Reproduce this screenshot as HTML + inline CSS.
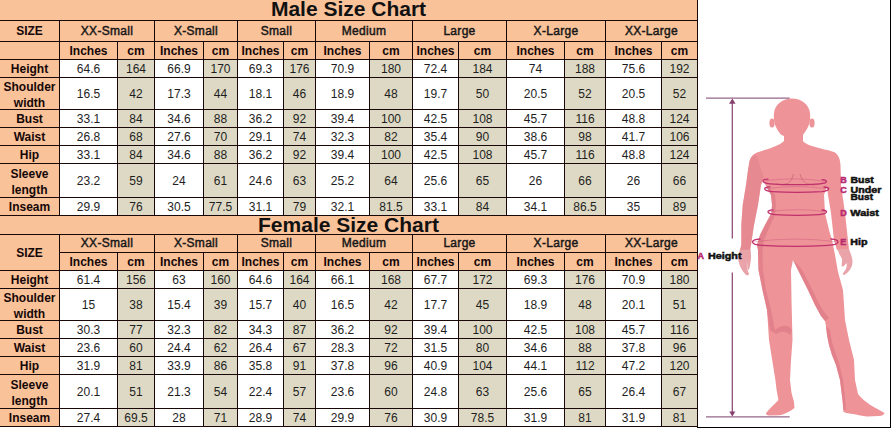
<!DOCTYPE html>
<html><head><meta charset="utf-8"><style>
html,body{margin:0;padding:0;background:#fff}
body{width:892px;height:428px;position:relative;overflow:hidden;font-family:"Liberation Sans",Arial,sans-serif;color:#111}
.r{position:absolute}
.t{position:absolute;text-align:center;font-size:12px;white-space:nowrap}
.t2{position:absolute;display:flex;align-items:center;justify-content:center;text-align:center;font-size:12px;line-height:16px;white-space:nowrap}
.b{font-weight:bold;color:#160707}
.n{color:#1e1e1e}
.h{-webkit-text-stroke:0.45px #111;letter-spacing:0.3px}
.title{position:absolute;text-align:center;font-weight:bold;font-size:21px;white-space:nowrap}
svg{position:absolute;left:0;top:0}
</style></head><body>
<div class="r" style="left:0px;top:0px;width:697px;height:20px;background:#F9C299"></div>
<div class="r" style="left:0px;top:216px;width:697px;height:18px;background:#F9C299"></div>
<div class="r" style="left:697px;top:0px;width:1px;height:21px;background:#1a0808"></div>
<div class="r" style="left:697px;top:216px;width:1px;height:19px;background:#1a0808"></div>
<div class="title" style="left:0;top:-1px;width:697px;height:20px;line-height:20px">Male Size Chart</div>
<div class="title" style="left:0;top:215px;width:697px;height:19px;line-height:19px">Female Size Chart</div>
<div class="r" style="left:0px;top:21px;width:697px;height:38px;background:#F9C299"></div>
<div class="r" style="left:0px;top:60px;width:59px;height:17px;background:#F9C299"></div>
<div class="r" style="left:60px;top:60px;width:57px;height:17px;background:#fff"></div>
<div class="r" style="left:118px;top:60px;width:36px;height:17px;background:#DDD9C4"></div>
<div class="r" style="left:155px;top:60px;width:48px;height:17px;background:#fff"></div>
<div class="r" style="left:204px;top:60px;width:33px;height:17px;background:#DDD9C4"></div>
<div class="r" style="left:238px;top:60px;width:45px;height:17px;background:#fff"></div>
<div class="r" style="left:284px;top:60px;width:31px;height:17px;background:#DDD9C4"></div>
<div class="r" style="left:316px;top:60px;width:53px;height:17px;background:#fff"></div>
<div class="r" style="left:370px;top:60px;width:42px;height:17px;background:#DDD9C4"></div>
<div class="r" style="left:413px;top:60px;width:45px;height:17px;background:#fff"></div>
<div class="r" style="left:459px;top:60px;width:47px;height:17px;background:#DDD9C4"></div>
<div class="r" style="left:507px;top:60px;width:57px;height:17px;background:#fff"></div>
<div class="r" style="left:565px;top:60px;width:40px;height:17px;background:#DDD9C4"></div>
<div class="r" style="left:606px;top:60px;width:55px;height:17px;background:#fff"></div>
<div class="r" style="left:662px;top:60px;width:35px;height:17px;background:#DDD9C4"></div>
<div class="r" style="left:0px;top:78px;width:59px;height:31px;background:#F9C299"></div>
<div class="r" style="left:60px;top:78px;width:57px;height:31px;background:#fff"></div>
<div class="r" style="left:118px;top:78px;width:36px;height:31px;background:#DDD9C4"></div>
<div class="r" style="left:155px;top:78px;width:48px;height:31px;background:#fff"></div>
<div class="r" style="left:204px;top:78px;width:33px;height:31px;background:#DDD9C4"></div>
<div class="r" style="left:238px;top:78px;width:45px;height:31px;background:#fff"></div>
<div class="r" style="left:284px;top:78px;width:31px;height:31px;background:#DDD9C4"></div>
<div class="r" style="left:316px;top:78px;width:53px;height:31px;background:#fff"></div>
<div class="r" style="left:370px;top:78px;width:42px;height:31px;background:#DDD9C4"></div>
<div class="r" style="left:413px;top:78px;width:45px;height:31px;background:#fff"></div>
<div class="r" style="left:459px;top:78px;width:47px;height:31px;background:#DDD9C4"></div>
<div class="r" style="left:507px;top:78px;width:57px;height:31px;background:#fff"></div>
<div class="r" style="left:565px;top:78px;width:40px;height:31px;background:#DDD9C4"></div>
<div class="r" style="left:606px;top:78px;width:55px;height:31px;background:#fff"></div>
<div class="r" style="left:662px;top:78px;width:35px;height:31px;background:#DDD9C4"></div>
<div class="r" style="left:0px;top:110px;width:59px;height:17px;background:#F9C299"></div>
<div class="r" style="left:60px;top:110px;width:57px;height:17px;background:#fff"></div>
<div class="r" style="left:118px;top:110px;width:36px;height:17px;background:#DDD9C4"></div>
<div class="r" style="left:155px;top:110px;width:48px;height:17px;background:#fff"></div>
<div class="r" style="left:204px;top:110px;width:33px;height:17px;background:#DDD9C4"></div>
<div class="r" style="left:238px;top:110px;width:45px;height:17px;background:#fff"></div>
<div class="r" style="left:284px;top:110px;width:31px;height:17px;background:#DDD9C4"></div>
<div class="r" style="left:316px;top:110px;width:53px;height:17px;background:#fff"></div>
<div class="r" style="left:370px;top:110px;width:42px;height:17px;background:#DDD9C4"></div>
<div class="r" style="left:413px;top:110px;width:45px;height:17px;background:#fff"></div>
<div class="r" style="left:459px;top:110px;width:47px;height:17px;background:#DDD9C4"></div>
<div class="r" style="left:507px;top:110px;width:57px;height:17px;background:#fff"></div>
<div class="r" style="left:565px;top:110px;width:40px;height:17px;background:#DDD9C4"></div>
<div class="r" style="left:606px;top:110px;width:55px;height:17px;background:#fff"></div>
<div class="r" style="left:662px;top:110px;width:35px;height:17px;background:#DDD9C4"></div>
<div class="r" style="left:0px;top:128px;width:59px;height:17px;background:#F9C299"></div>
<div class="r" style="left:60px;top:128px;width:57px;height:17px;background:#fff"></div>
<div class="r" style="left:118px;top:128px;width:36px;height:17px;background:#DDD9C4"></div>
<div class="r" style="left:155px;top:128px;width:48px;height:17px;background:#fff"></div>
<div class="r" style="left:204px;top:128px;width:33px;height:17px;background:#DDD9C4"></div>
<div class="r" style="left:238px;top:128px;width:45px;height:17px;background:#fff"></div>
<div class="r" style="left:284px;top:128px;width:31px;height:17px;background:#DDD9C4"></div>
<div class="r" style="left:316px;top:128px;width:53px;height:17px;background:#fff"></div>
<div class="r" style="left:370px;top:128px;width:42px;height:17px;background:#DDD9C4"></div>
<div class="r" style="left:413px;top:128px;width:45px;height:17px;background:#fff"></div>
<div class="r" style="left:459px;top:128px;width:47px;height:17px;background:#DDD9C4"></div>
<div class="r" style="left:507px;top:128px;width:57px;height:17px;background:#fff"></div>
<div class="r" style="left:565px;top:128px;width:40px;height:17px;background:#DDD9C4"></div>
<div class="r" style="left:606px;top:128px;width:55px;height:17px;background:#fff"></div>
<div class="r" style="left:662px;top:128px;width:35px;height:17px;background:#DDD9C4"></div>
<div class="r" style="left:0px;top:146px;width:59px;height:17px;background:#F9C299"></div>
<div class="r" style="left:60px;top:146px;width:57px;height:17px;background:#fff"></div>
<div class="r" style="left:118px;top:146px;width:36px;height:17px;background:#DDD9C4"></div>
<div class="r" style="left:155px;top:146px;width:48px;height:17px;background:#fff"></div>
<div class="r" style="left:204px;top:146px;width:33px;height:17px;background:#DDD9C4"></div>
<div class="r" style="left:238px;top:146px;width:45px;height:17px;background:#fff"></div>
<div class="r" style="left:284px;top:146px;width:31px;height:17px;background:#DDD9C4"></div>
<div class="r" style="left:316px;top:146px;width:53px;height:17px;background:#fff"></div>
<div class="r" style="left:370px;top:146px;width:42px;height:17px;background:#DDD9C4"></div>
<div class="r" style="left:413px;top:146px;width:45px;height:17px;background:#fff"></div>
<div class="r" style="left:459px;top:146px;width:47px;height:17px;background:#DDD9C4"></div>
<div class="r" style="left:507px;top:146px;width:57px;height:17px;background:#fff"></div>
<div class="r" style="left:565px;top:146px;width:40px;height:17px;background:#DDD9C4"></div>
<div class="r" style="left:606px;top:146px;width:55px;height:17px;background:#fff"></div>
<div class="r" style="left:662px;top:146px;width:35px;height:17px;background:#DDD9C4"></div>
<div class="r" style="left:0px;top:164px;width:59px;height:33px;background:#F9C299"></div>
<div class="r" style="left:60px;top:164px;width:57px;height:33px;background:#fff"></div>
<div class="r" style="left:118px;top:164px;width:36px;height:33px;background:#DDD9C4"></div>
<div class="r" style="left:155px;top:164px;width:48px;height:33px;background:#fff"></div>
<div class="r" style="left:204px;top:164px;width:33px;height:33px;background:#DDD9C4"></div>
<div class="r" style="left:238px;top:164px;width:45px;height:33px;background:#fff"></div>
<div class="r" style="left:284px;top:164px;width:31px;height:33px;background:#DDD9C4"></div>
<div class="r" style="left:316px;top:164px;width:53px;height:33px;background:#fff"></div>
<div class="r" style="left:370px;top:164px;width:42px;height:33px;background:#DDD9C4"></div>
<div class="r" style="left:413px;top:164px;width:45px;height:33px;background:#fff"></div>
<div class="r" style="left:459px;top:164px;width:47px;height:33px;background:#DDD9C4"></div>
<div class="r" style="left:507px;top:164px;width:57px;height:33px;background:#fff"></div>
<div class="r" style="left:565px;top:164px;width:40px;height:33px;background:#DDD9C4"></div>
<div class="r" style="left:606px;top:164px;width:55px;height:33px;background:#fff"></div>
<div class="r" style="left:662px;top:164px;width:35px;height:33px;background:#DDD9C4"></div>
<div class="r" style="left:0px;top:198px;width:59px;height:17px;background:#F9C299"></div>
<div class="r" style="left:60px;top:198px;width:57px;height:17px;background:#fff"></div>
<div class="r" style="left:118px;top:198px;width:36px;height:17px;background:#DDD9C4"></div>
<div class="r" style="left:155px;top:198px;width:48px;height:17px;background:#fff"></div>
<div class="r" style="left:204px;top:198px;width:33px;height:17px;background:#DDD9C4"></div>
<div class="r" style="left:238px;top:198px;width:45px;height:17px;background:#fff"></div>
<div class="r" style="left:284px;top:198px;width:31px;height:17px;background:#DDD9C4"></div>
<div class="r" style="left:316px;top:198px;width:53px;height:17px;background:#fff"></div>
<div class="r" style="left:370px;top:198px;width:42px;height:17px;background:#DDD9C4"></div>
<div class="r" style="left:413px;top:198px;width:45px;height:17px;background:#fff"></div>
<div class="r" style="left:459px;top:198px;width:47px;height:17px;background:#DDD9C4"></div>
<div class="r" style="left:507px;top:198px;width:57px;height:17px;background:#fff"></div>
<div class="r" style="left:565px;top:198px;width:40px;height:17px;background:#DDD9C4"></div>
<div class="r" style="left:606px;top:198px;width:55px;height:17px;background:#fff"></div>
<div class="r" style="left:662px;top:198px;width:35px;height:17px;background:#DDD9C4"></div>
<div class="r" style="left:0px;top:20px;width:698px;height:1px;background:#1a0808"></div>
<div class="r" style="left:0px;top:41px;width:698px;height:1px;background:#1a0808"></div>
<div class="r" style="left:0px;top:59px;width:698px;height:1px;background:#1a0808"></div>
<div class="r" style="left:0px;top:77px;width:698px;height:1px;background:#1a0808"></div>
<div class="r" style="left:0px;top:109px;width:698px;height:1px;background:#1a0808"></div>
<div class="r" style="left:0px;top:127px;width:698px;height:1px;background:#1a0808"></div>
<div class="r" style="left:0px;top:145px;width:698px;height:1px;background:#1a0808"></div>
<div class="r" style="left:0px;top:163px;width:698px;height:1px;background:#1a0808"></div>
<div class="r" style="left:0px;top:197px;width:698px;height:1px;background:#1a0808"></div>
<div class="r" style="left:0px;top:215px;width:698px;height:1px;background:#1a0808"></div>
<div class="r" style="left:59px;top:20px;width:1px;height:196px;background:#1a0808"></div>
<div class="r" style="left:154px;top:20px;width:1px;height:196px;background:#1a0808"></div>
<div class="r" style="left:237px;top:20px;width:1px;height:196px;background:#1a0808"></div>
<div class="r" style="left:315px;top:20px;width:1px;height:196px;background:#1a0808"></div>
<div class="r" style="left:412px;top:20px;width:1px;height:196px;background:#1a0808"></div>
<div class="r" style="left:506px;top:20px;width:1px;height:196px;background:#1a0808"></div>
<div class="r" style="left:605px;top:20px;width:1px;height:196px;background:#1a0808"></div>
<div class="r" style="left:697px;top:20px;width:1px;height:196px;background:#1a0808"></div>
<div class="r" style="left:117px;top:41px;width:1px;height:175px;background:#1a0808"></div>
<div class="r" style="left:203px;top:41px;width:1px;height:175px;background:#1a0808"></div>
<div class="r" style="left:283px;top:41px;width:1px;height:175px;background:#1a0808"></div>
<div class="r" style="left:369px;top:41px;width:1px;height:175px;background:#1a0808"></div>
<div class="r" style="left:458px;top:41px;width:1px;height:175px;background:#1a0808"></div>
<div class="r" style="left:564px;top:41px;width:1px;height:175px;background:#1a0808"></div>
<div class="r" style="left:661px;top:41px;width:1px;height:175px;background:#1a0808"></div>
<div class="t b" style="left:0px;top:21px;width:59px;height:20px;line-height:20px">SIZE</div>
<div class="t n h" style="left:60px;top:21px;width:94px;height:20px;line-height:20px">XX-Small</div>
<div class="t b" style="left:60px;top:43px;width:57px;height:17px;line-height:17px">Inches</div>
<div class="t b" style="left:118px;top:43px;width:36px;height:17px;line-height:17px">cm</div>
<div class="t n h" style="left:155px;top:21px;width:82px;height:20px;line-height:20px">X-Small</div>
<div class="t b" style="left:155px;top:43px;width:48px;height:17px;line-height:17px">Inches</div>
<div class="t b" style="left:204px;top:43px;width:33px;height:17px;line-height:17px">cm</div>
<div class="t n h" style="left:238px;top:21px;width:77px;height:20px;line-height:20px">Small</div>
<div class="t b" style="left:238px;top:43px;width:45px;height:17px;line-height:17px">Inches</div>
<div class="t b" style="left:284px;top:43px;width:31px;height:17px;line-height:17px">cm</div>
<div class="t n h" style="left:316px;top:21px;width:96px;height:20px;line-height:20px">Medium</div>
<div class="t b" style="left:316px;top:43px;width:53px;height:17px;line-height:17px">Inches</div>
<div class="t b" style="left:370px;top:43px;width:42px;height:17px;line-height:17px">cm</div>
<div class="t n h" style="left:413px;top:21px;width:93px;height:20px;line-height:20px">Large</div>
<div class="t b" style="left:413px;top:43px;width:45px;height:17px;line-height:17px">Inches</div>
<div class="t b" style="left:459px;top:43px;width:47px;height:17px;line-height:17px">cm</div>
<div class="t n h" style="left:507px;top:21px;width:98px;height:20px;line-height:20px">X-Large</div>
<div class="t b" style="left:507px;top:43px;width:57px;height:17px;line-height:17px">Inches</div>
<div class="t b" style="left:565px;top:43px;width:40px;height:17px;line-height:17px">cm</div>
<div class="t n h" style="left:606px;top:21px;width:91px;height:20px;line-height:20px">XX-Large</div>
<div class="t b" style="left:606px;top:43px;width:55px;height:17px;line-height:17px">Inches</div>
<div class="t b" style="left:662px;top:43px;width:35px;height:17px;line-height:17px">cm</div>
<div class="t b" style="left:0px;top:61px;width:59px;height:17px;line-height:17px">Height</div>
<div class="t n" style="left:60px;top:61px;width:57px;height:17px;line-height:17px">64.6</div>
<div class="t n" style="left:118px;top:61px;width:36px;height:17px;line-height:17px">164</div>
<div class="t n" style="left:155px;top:61px;width:48px;height:17px;line-height:17px">66.9</div>
<div class="t n" style="left:204px;top:61px;width:33px;height:17px;line-height:17px">170</div>
<div class="t n" style="left:238px;top:61px;width:45px;height:17px;line-height:17px">69.3</div>
<div class="t n" style="left:284px;top:61px;width:31px;height:17px;line-height:17px">176</div>
<div class="t n" style="left:316px;top:61px;width:53px;height:17px;line-height:17px">70.9</div>
<div class="t n" style="left:370px;top:61px;width:42px;height:17px;line-height:17px">180</div>
<div class="t n" style="left:413px;top:61px;width:45px;height:17px;line-height:17px">72.4</div>
<div class="t n" style="left:459px;top:61px;width:47px;height:17px;line-height:17px">184</div>
<div class="t n" style="left:507px;top:61px;width:57px;height:17px;line-height:17px">74</div>
<div class="t n" style="left:565px;top:61px;width:40px;height:17px;line-height:17px">188</div>
<div class="t n" style="left:606px;top:61px;width:55px;height:17px;line-height:17px">75.6</div>
<div class="t n" style="left:662px;top:61px;width:35px;height:17px;line-height:17px">192</div>
<div class="t2 b" style="left:0px;top:79px;width:59px;height:31px"><div>Shoulder<br>width</div></div>
<div class="t n" style="left:60px;top:79px;width:57px;height:31px;line-height:31px">16.5</div>
<div class="t n" style="left:118px;top:79px;width:36px;height:31px;line-height:31px">42</div>
<div class="t n" style="left:155px;top:79px;width:48px;height:31px;line-height:31px">17.3</div>
<div class="t n" style="left:204px;top:79px;width:33px;height:31px;line-height:31px">44</div>
<div class="t n" style="left:238px;top:79px;width:45px;height:31px;line-height:31px">18.1</div>
<div class="t n" style="left:284px;top:79px;width:31px;height:31px;line-height:31px">46</div>
<div class="t n" style="left:316px;top:79px;width:53px;height:31px;line-height:31px">18.9</div>
<div class="t n" style="left:370px;top:79px;width:42px;height:31px;line-height:31px">48</div>
<div class="t n" style="left:413px;top:79px;width:45px;height:31px;line-height:31px">19.7</div>
<div class="t n" style="left:459px;top:79px;width:47px;height:31px;line-height:31px">50</div>
<div class="t n" style="left:507px;top:79px;width:57px;height:31px;line-height:31px">20.5</div>
<div class="t n" style="left:565px;top:79px;width:40px;height:31px;line-height:31px">52</div>
<div class="t n" style="left:606px;top:79px;width:55px;height:31px;line-height:31px">20.5</div>
<div class="t n" style="left:662px;top:79px;width:35px;height:31px;line-height:31px">52</div>
<div class="t b" style="left:0px;top:111px;width:59px;height:17px;line-height:17px">Bust</div>
<div class="t n" style="left:60px;top:111px;width:57px;height:17px;line-height:17px">33.1</div>
<div class="t n" style="left:118px;top:111px;width:36px;height:17px;line-height:17px">84</div>
<div class="t n" style="left:155px;top:111px;width:48px;height:17px;line-height:17px">34.6</div>
<div class="t n" style="left:204px;top:111px;width:33px;height:17px;line-height:17px">88</div>
<div class="t n" style="left:238px;top:111px;width:45px;height:17px;line-height:17px">36.2</div>
<div class="t n" style="left:284px;top:111px;width:31px;height:17px;line-height:17px">92</div>
<div class="t n" style="left:316px;top:111px;width:53px;height:17px;line-height:17px">39.4</div>
<div class="t n" style="left:370px;top:111px;width:42px;height:17px;line-height:17px">100</div>
<div class="t n" style="left:413px;top:111px;width:45px;height:17px;line-height:17px">42.5</div>
<div class="t n" style="left:459px;top:111px;width:47px;height:17px;line-height:17px">108</div>
<div class="t n" style="left:507px;top:111px;width:57px;height:17px;line-height:17px">45.7</div>
<div class="t n" style="left:565px;top:111px;width:40px;height:17px;line-height:17px">116</div>
<div class="t n" style="left:606px;top:111px;width:55px;height:17px;line-height:17px">48.8</div>
<div class="t n" style="left:662px;top:111px;width:35px;height:17px;line-height:17px">124</div>
<div class="t b" style="left:0px;top:129px;width:59px;height:17px;line-height:17px">Waist</div>
<div class="t n" style="left:60px;top:129px;width:57px;height:17px;line-height:17px">26.8</div>
<div class="t n" style="left:118px;top:129px;width:36px;height:17px;line-height:17px">68</div>
<div class="t n" style="left:155px;top:129px;width:48px;height:17px;line-height:17px">27.6</div>
<div class="t n" style="left:204px;top:129px;width:33px;height:17px;line-height:17px">70</div>
<div class="t n" style="left:238px;top:129px;width:45px;height:17px;line-height:17px">29.1</div>
<div class="t n" style="left:284px;top:129px;width:31px;height:17px;line-height:17px">74</div>
<div class="t n" style="left:316px;top:129px;width:53px;height:17px;line-height:17px">32.3</div>
<div class="t n" style="left:370px;top:129px;width:42px;height:17px;line-height:17px">82</div>
<div class="t n" style="left:413px;top:129px;width:45px;height:17px;line-height:17px">35.4</div>
<div class="t n" style="left:459px;top:129px;width:47px;height:17px;line-height:17px">90</div>
<div class="t n" style="left:507px;top:129px;width:57px;height:17px;line-height:17px">38.6</div>
<div class="t n" style="left:565px;top:129px;width:40px;height:17px;line-height:17px">98</div>
<div class="t n" style="left:606px;top:129px;width:55px;height:17px;line-height:17px">41.7</div>
<div class="t n" style="left:662px;top:129px;width:35px;height:17px;line-height:17px">106</div>
<div class="t b" style="left:0px;top:147px;width:59px;height:17px;line-height:17px">Hip</div>
<div class="t n" style="left:60px;top:147px;width:57px;height:17px;line-height:17px">33.1</div>
<div class="t n" style="left:118px;top:147px;width:36px;height:17px;line-height:17px">84</div>
<div class="t n" style="left:155px;top:147px;width:48px;height:17px;line-height:17px">34.6</div>
<div class="t n" style="left:204px;top:147px;width:33px;height:17px;line-height:17px">88</div>
<div class="t n" style="left:238px;top:147px;width:45px;height:17px;line-height:17px">36.2</div>
<div class="t n" style="left:284px;top:147px;width:31px;height:17px;line-height:17px">92</div>
<div class="t n" style="left:316px;top:147px;width:53px;height:17px;line-height:17px">39.4</div>
<div class="t n" style="left:370px;top:147px;width:42px;height:17px;line-height:17px">100</div>
<div class="t n" style="left:413px;top:147px;width:45px;height:17px;line-height:17px">42.5</div>
<div class="t n" style="left:459px;top:147px;width:47px;height:17px;line-height:17px">108</div>
<div class="t n" style="left:507px;top:147px;width:57px;height:17px;line-height:17px">45.7</div>
<div class="t n" style="left:565px;top:147px;width:40px;height:17px;line-height:17px">116</div>
<div class="t n" style="left:606px;top:147px;width:55px;height:17px;line-height:17px">48.8</div>
<div class="t n" style="left:662px;top:147px;width:35px;height:17px;line-height:17px">124</div>
<div class="t2 b" style="left:0px;top:165px;width:59px;height:33px"><div>Sleeve<br>length</div></div>
<div class="t n" style="left:60px;top:165px;width:57px;height:33px;line-height:33px">23.2</div>
<div class="t n" style="left:118px;top:165px;width:36px;height:33px;line-height:33px">59</div>
<div class="t n" style="left:155px;top:165px;width:48px;height:33px;line-height:33px">24</div>
<div class="t n" style="left:204px;top:165px;width:33px;height:33px;line-height:33px">61</div>
<div class="t n" style="left:238px;top:165px;width:45px;height:33px;line-height:33px">24.6</div>
<div class="t n" style="left:284px;top:165px;width:31px;height:33px;line-height:33px">63</div>
<div class="t n" style="left:316px;top:165px;width:53px;height:33px;line-height:33px">25.2</div>
<div class="t n" style="left:370px;top:165px;width:42px;height:33px;line-height:33px">64</div>
<div class="t n" style="left:413px;top:165px;width:45px;height:33px;line-height:33px">25.6</div>
<div class="t n" style="left:459px;top:165px;width:47px;height:33px;line-height:33px">65</div>
<div class="t n" style="left:507px;top:165px;width:57px;height:33px;line-height:33px">26</div>
<div class="t n" style="left:565px;top:165px;width:40px;height:33px;line-height:33px">66</div>
<div class="t n" style="left:606px;top:165px;width:55px;height:33px;line-height:33px">26</div>
<div class="t n" style="left:662px;top:165px;width:35px;height:33px;line-height:33px">66</div>
<div class="t b" style="left:0px;top:199px;width:59px;height:17px;line-height:17px">Inseam</div>
<div class="t n" style="left:60px;top:199px;width:57px;height:17px;line-height:17px">29.9</div>
<div class="t n" style="left:118px;top:199px;width:36px;height:17px;line-height:17px">76</div>
<div class="t n" style="left:155px;top:199px;width:48px;height:17px;line-height:17px">30.5</div>
<div class="t n" style="left:204px;top:199px;width:33px;height:17px;line-height:17px">77.5</div>
<div class="t n" style="left:238px;top:199px;width:45px;height:17px;line-height:17px">31.1</div>
<div class="t n" style="left:284px;top:199px;width:31px;height:17px;line-height:17px">79</div>
<div class="t n" style="left:316px;top:199px;width:53px;height:17px;line-height:17px">32.1</div>
<div class="t n" style="left:370px;top:199px;width:42px;height:17px;line-height:17px">81.5</div>
<div class="t n" style="left:413px;top:199px;width:45px;height:17px;line-height:17px">33.1</div>
<div class="t n" style="left:459px;top:199px;width:47px;height:17px;line-height:17px">84</div>
<div class="t n" style="left:507px;top:199px;width:57px;height:17px;line-height:17px">34.1</div>
<div class="t n" style="left:565px;top:199px;width:40px;height:17px;line-height:17px">86.5</div>
<div class="t n" style="left:606px;top:199px;width:55px;height:17px;line-height:17px">35</div>
<div class="t n" style="left:662px;top:199px;width:35px;height:17px;line-height:17px">89</div>
<div class="r" style="left:0px;top:235px;width:697px;height:35px;background:#F9C299"></div>
<div class="r" style="left:0px;top:271px;width:59px;height:17px;background:#F9C299"></div>
<div class="r" style="left:60px;top:271px;width:57px;height:17px;background:#fff"></div>
<div class="r" style="left:118px;top:271px;width:36px;height:17px;background:#DDD9C4"></div>
<div class="r" style="left:155px;top:271px;width:48px;height:17px;background:#fff"></div>
<div class="r" style="left:204px;top:271px;width:33px;height:17px;background:#DDD9C4"></div>
<div class="r" style="left:238px;top:271px;width:45px;height:17px;background:#fff"></div>
<div class="r" style="left:284px;top:271px;width:31px;height:17px;background:#DDD9C4"></div>
<div class="r" style="left:316px;top:271px;width:53px;height:17px;background:#fff"></div>
<div class="r" style="left:370px;top:271px;width:42px;height:17px;background:#DDD9C4"></div>
<div class="r" style="left:413px;top:271px;width:45px;height:17px;background:#fff"></div>
<div class="r" style="left:459px;top:271px;width:47px;height:17px;background:#DDD9C4"></div>
<div class="r" style="left:507px;top:271px;width:57px;height:17px;background:#fff"></div>
<div class="r" style="left:565px;top:271px;width:40px;height:17px;background:#DDD9C4"></div>
<div class="r" style="left:606px;top:271px;width:55px;height:17px;background:#fff"></div>
<div class="r" style="left:662px;top:271px;width:35px;height:17px;background:#DDD9C4"></div>
<div class="r" style="left:0px;top:289px;width:59px;height:31px;background:#F9C299"></div>
<div class="r" style="left:60px;top:289px;width:57px;height:31px;background:#fff"></div>
<div class="r" style="left:118px;top:289px;width:36px;height:31px;background:#DDD9C4"></div>
<div class="r" style="left:155px;top:289px;width:48px;height:31px;background:#fff"></div>
<div class="r" style="left:204px;top:289px;width:33px;height:31px;background:#DDD9C4"></div>
<div class="r" style="left:238px;top:289px;width:45px;height:31px;background:#fff"></div>
<div class="r" style="left:284px;top:289px;width:31px;height:31px;background:#DDD9C4"></div>
<div class="r" style="left:316px;top:289px;width:53px;height:31px;background:#fff"></div>
<div class="r" style="left:370px;top:289px;width:42px;height:31px;background:#DDD9C4"></div>
<div class="r" style="left:413px;top:289px;width:45px;height:31px;background:#fff"></div>
<div class="r" style="left:459px;top:289px;width:47px;height:31px;background:#DDD9C4"></div>
<div class="r" style="left:507px;top:289px;width:57px;height:31px;background:#fff"></div>
<div class="r" style="left:565px;top:289px;width:40px;height:31px;background:#DDD9C4"></div>
<div class="r" style="left:606px;top:289px;width:55px;height:31px;background:#fff"></div>
<div class="r" style="left:662px;top:289px;width:35px;height:31px;background:#DDD9C4"></div>
<div class="r" style="left:0px;top:321px;width:59px;height:17px;background:#F9C299"></div>
<div class="r" style="left:60px;top:321px;width:57px;height:17px;background:#fff"></div>
<div class="r" style="left:118px;top:321px;width:36px;height:17px;background:#DDD9C4"></div>
<div class="r" style="left:155px;top:321px;width:48px;height:17px;background:#fff"></div>
<div class="r" style="left:204px;top:321px;width:33px;height:17px;background:#DDD9C4"></div>
<div class="r" style="left:238px;top:321px;width:45px;height:17px;background:#fff"></div>
<div class="r" style="left:284px;top:321px;width:31px;height:17px;background:#DDD9C4"></div>
<div class="r" style="left:316px;top:321px;width:53px;height:17px;background:#fff"></div>
<div class="r" style="left:370px;top:321px;width:42px;height:17px;background:#DDD9C4"></div>
<div class="r" style="left:413px;top:321px;width:45px;height:17px;background:#fff"></div>
<div class="r" style="left:459px;top:321px;width:47px;height:17px;background:#DDD9C4"></div>
<div class="r" style="left:507px;top:321px;width:57px;height:17px;background:#fff"></div>
<div class="r" style="left:565px;top:321px;width:40px;height:17px;background:#DDD9C4"></div>
<div class="r" style="left:606px;top:321px;width:55px;height:17px;background:#fff"></div>
<div class="r" style="left:662px;top:321px;width:35px;height:17px;background:#DDD9C4"></div>
<div class="r" style="left:0px;top:339px;width:59px;height:17px;background:#F9C299"></div>
<div class="r" style="left:60px;top:339px;width:57px;height:17px;background:#fff"></div>
<div class="r" style="left:118px;top:339px;width:36px;height:17px;background:#DDD9C4"></div>
<div class="r" style="left:155px;top:339px;width:48px;height:17px;background:#fff"></div>
<div class="r" style="left:204px;top:339px;width:33px;height:17px;background:#DDD9C4"></div>
<div class="r" style="left:238px;top:339px;width:45px;height:17px;background:#fff"></div>
<div class="r" style="left:284px;top:339px;width:31px;height:17px;background:#DDD9C4"></div>
<div class="r" style="left:316px;top:339px;width:53px;height:17px;background:#fff"></div>
<div class="r" style="left:370px;top:339px;width:42px;height:17px;background:#DDD9C4"></div>
<div class="r" style="left:413px;top:339px;width:45px;height:17px;background:#fff"></div>
<div class="r" style="left:459px;top:339px;width:47px;height:17px;background:#DDD9C4"></div>
<div class="r" style="left:507px;top:339px;width:57px;height:17px;background:#fff"></div>
<div class="r" style="left:565px;top:339px;width:40px;height:17px;background:#DDD9C4"></div>
<div class="r" style="left:606px;top:339px;width:55px;height:17px;background:#fff"></div>
<div class="r" style="left:662px;top:339px;width:35px;height:17px;background:#DDD9C4"></div>
<div class="r" style="left:0px;top:357px;width:59px;height:17px;background:#F9C299"></div>
<div class="r" style="left:60px;top:357px;width:57px;height:17px;background:#fff"></div>
<div class="r" style="left:118px;top:357px;width:36px;height:17px;background:#DDD9C4"></div>
<div class="r" style="left:155px;top:357px;width:48px;height:17px;background:#fff"></div>
<div class="r" style="left:204px;top:357px;width:33px;height:17px;background:#DDD9C4"></div>
<div class="r" style="left:238px;top:357px;width:45px;height:17px;background:#fff"></div>
<div class="r" style="left:284px;top:357px;width:31px;height:17px;background:#DDD9C4"></div>
<div class="r" style="left:316px;top:357px;width:53px;height:17px;background:#fff"></div>
<div class="r" style="left:370px;top:357px;width:42px;height:17px;background:#DDD9C4"></div>
<div class="r" style="left:413px;top:357px;width:45px;height:17px;background:#fff"></div>
<div class="r" style="left:459px;top:357px;width:47px;height:17px;background:#DDD9C4"></div>
<div class="r" style="left:507px;top:357px;width:57px;height:17px;background:#fff"></div>
<div class="r" style="left:565px;top:357px;width:40px;height:17px;background:#DDD9C4"></div>
<div class="r" style="left:606px;top:357px;width:55px;height:17px;background:#fff"></div>
<div class="r" style="left:662px;top:357px;width:35px;height:17px;background:#DDD9C4"></div>
<div class="r" style="left:0px;top:375px;width:59px;height:33px;background:#F9C299"></div>
<div class="r" style="left:60px;top:375px;width:57px;height:33px;background:#fff"></div>
<div class="r" style="left:118px;top:375px;width:36px;height:33px;background:#DDD9C4"></div>
<div class="r" style="left:155px;top:375px;width:48px;height:33px;background:#fff"></div>
<div class="r" style="left:204px;top:375px;width:33px;height:33px;background:#DDD9C4"></div>
<div class="r" style="left:238px;top:375px;width:45px;height:33px;background:#fff"></div>
<div class="r" style="left:284px;top:375px;width:31px;height:33px;background:#DDD9C4"></div>
<div class="r" style="left:316px;top:375px;width:53px;height:33px;background:#fff"></div>
<div class="r" style="left:370px;top:375px;width:42px;height:33px;background:#DDD9C4"></div>
<div class="r" style="left:413px;top:375px;width:45px;height:33px;background:#fff"></div>
<div class="r" style="left:459px;top:375px;width:47px;height:33px;background:#DDD9C4"></div>
<div class="r" style="left:507px;top:375px;width:57px;height:33px;background:#fff"></div>
<div class="r" style="left:565px;top:375px;width:40px;height:33px;background:#DDD9C4"></div>
<div class="r" style="left:606px;top:375px;width:55px;height:33px;background:#fff"></div>
<div class="r" style="left:662px;top:375px;width:35px;height:33px;background:#DDD9C4"></div>
<div class="r" style="left:0px;top:409px;width:59px;height:17px;background:#F9C299"></div>
<div class="r" style="left:60px;top:409px;width:57px;height:17px;background:#fff"></div>
<div class="r" style="left:118px;top:409px;width:36px;height:17px;background:#DDD9C4"></div>
<div class="r" style="left:155px;top:409px;width:48px;height:17px;background:#fff"></div>
<div class="r" style="left:204px;top:409px;width:33px;height:17px;background:#DDD9C4"></div>
<div class="r" style="left:238px;top:409px;width:45px;height:17px;background:#fff"></div>
<div class="r" style="left:284px;top:409px;width:31px;height:17px;background:#DDD9C4"></div>
<div class="r" style="left:316px;top:409px;width:53px;height:17px;background:#fff"></div>
<div class="r" style="left:370px;top:409px;width:42px;height:17px;background:#DDD9C4"></div>
<div class="r" style="left:413px;top:409px;width:45px;height:17px;background:#fff"></div>
<div class="r" style="left:459px;top:409px;width:47px;height:17px;background:#DDD9C4"></div>
<div class="r" style="left:507px;top:409px;width:57px;height:17px;background:#fff"></div>
<div class="r" style="left:565px;top:409px;width:40px;height:17px;background:#DDD9C4"></div>
<div class="r" style="left:606px;top:409px;width:55px;height:17px;background:#fff"></div>
<div class="r" style="left:662px;top:409px;width:35px;height:17px;background:#DDD9C4"></div>
<div class="r" style="left:0px;top:234px;width:698px;height:1px;background:#1a0808"></div>
<div class="r" style="left:59px;top:252px;width:639px;height:1px;background:#1a0808"></div>
<div class="r" style="left:0px;top:270px;width:698px;height:1px;background:#1a0808"></div>
<div class="r" style="left:0px;top:288px;width:698px;height:1px;background:#1a0808"></div>
<div class="r" style="left:0px;top:320px;width:698px;height:1px;background:#1a0808"></div>
<div class="r" style="left:0px;top:338px;width:698px;height:1px;background:#1a0808"></div>
<div class="r" style="left:0px;top:356px;width:698px;height:1px;background:#1a0808"></div>
<div class="r" style="left:0px;top:374px;width:698px;height:1px;background:#1a0808"></div>
<div class="r" style="left:0px;top:408px;width:698px;height:1px;background:#1a0808"></div>
<div class="r" style="left:0px;top:426px;width:698px;height:1px;background:#1a0808"></div>
<div class="r" style="left:59px;top:234px;width:1px;height:193px;background:#1a0808"></div>
<div class="r" style="left:154px;top:234px;width:1px;height:193px;background:#1a0808"></div>
<div class="r" style="left:237px;top:234px;width:1px;height:193px;background:#1a0808"></div>
<div class="r" style="left:315px;top:234px;width:1px;height:193px;background:#1a0808"></div>
<div class="r" style="left:412px;top:234px;width:1px;height:193px;background:#1a0808"></div>
<div class="r" style="left:506px;top:234px;width:1px;height:193px;background:#1a0808"></div>
<div class="r" style="left:605px;top:234px;width:1px;height:193px;background:#1a0808"></div>
<div class="r" style="left:697px;top:234px;width:1px;height:193px;background:#1a0808"></div>
<div class="r" style="left:117px;top:252px;width:1px;height:175px;background:#1a0808"></div>
<div class="r" style="left:203px;top:252px;width:1px;height:175px;background:#1a0808"></div>
<div class="r" style="left:283px;top:252px;width:1px;height:175px;background:#1a0808"></div>
<div class="r" style="left:369px;top:252px;width:1px;height:175px;background:#1a0808"></div>
<div class="r" style="left:458px;top:252px;width:1px;height:175px;background:#1a0808"></div>
<div class="r" style="left:564px;top:252px;width:1px;height:175px;background:#1a0808"></div>
<div class="r" style="left:661px;top:252px;width:1px;height:175px;background:#1a0808"></div>
<div class="t b" style="left:0px;top:236px;width:59px;height:35px;line-height:35px">SIZE</div>
<div class="t n h" style="left:60px;top:235px;width:94px;height:17px;line-height:17px">XX-Small</div>
<div class="t b" style="left:60px;top:254px;width:57px;height:17px;line-height:17px">Inches</div>
<div class="t b" style="left:118px;top:254px;width:36px;height:17px;line-height:17px">cm</div>
<div class="t n h" style="left:155px;top:235px;width:82px;height:17px;line-height:17px">X-Small</div>
<div class="t b" style="left:155px;top:254px;width:48px;height:17px;line-height:17px">Inches</div>
<div class="t b" style="left:204px;top:254px;width:33px;height:17px;line-height:17px">cm</div>
<div class="t n h" style="left:238px;top:235px;width:77px;height:17px;line-height:17px">Small</div>
<div class="t b" style="left:238px;top:254px;width:45px;height:17px;line-height:17px">Inches</div>
<div class="t b" style="left:284px;top:254px;width:31px;height:17px;line-height:17px">cm</div>
<div class="t n h" style="left:316px;top:235px;width:96px;height:17px;line-height:17px">Medium</div>
<div class="t b" style="left:316px;top:254px;width:53px;height:17px;line-height:17px">Inches</div>
<div class="t b" style="left:370px;top:254px;width:42px;height:17px;line-height:17px">cm</div>
<div class="t n h" style="left:413px;top:235px;width:93px;height:17px;line-height:17px">Large</div>
<div class="t b" style="left:413px;top:254px;width:45px;height:17px;line-height:17px">Inches</div>
<div class="t b" style="left:459px;top:254px;width:47px;height:17px;line-height:17px">cm</div>
<div class="t n h" style="left:507px;top:235px;width:98px;height:17px;line-height:17px">X-Large</div>
<div class="t b" style="left:507px;top:254px;width:57px;height:17px;line-height:17px">Inches</div>
<div class="t b" style="left:565px;top:254px;width:40px;height:17px;line-height:17px">cm</div>
<div class="t n h" style="left:606px;top:235px;width:91px;height:17px;line-height:17px">XX-Large</div>
<div class="t b" style="left:606px;top:254px;width:55px;height:17px;line-height:17px">Inches</div>
<div class="t b" style="left:662px;top:254px;width:35px;height:17px;line-height:17px">cm</div>
<div class="t b" style="left:0px;top:272px;width:59px;height:17px;line-height:17px">Height</div>
<div class="t n" style="left:60px;top:272px;width:57px;height:17px;line-height:17px">61.4</div>
<div class="t n" style="left:118px;top:272px;width:36px;height:17px;line-height:17px">156</div>
<div class="t n" style="left:155px;top:272px;width:48px;height:17px;line-height:17px">63</div>
<div class="t n" style="left:204px;top:272px;width:33px;height:17px;line-height:17px">160</div>
<div class="t n" style="left:238px;top:272px;width:45px;height:17px;line-height:17px">64.6</div>
<div class="t n" style="left:284px;top:272px;width:31px;height:17px;line-height:17px">164</div>
<div class="t n" style="left:316px;top:272px;width:53px;height:17px;line-height:17px">66.1</div>
<div class="t n" style="left:370px;top:272px;width:42px;height:17px;line-height:17px">168</div>
<div class="t n" style="left:413px;top:272px;width:45px;height:17px;line-height:17px">67.7</div>
<div class="t n" style="left:459px;top:272px;width:47px;height:17px;line-height:17px">172</div>
<div class="t n" style="left:507px;top:272px;width:57px;height:17px;line-height:17px">69.3</div>
<div class="t n" style="left:565px;top:272px;width:40px;height:17px;line-height:17px">176</div>
<div class="t n" style="left:606px;top:272px;width:55px;height:17px;line-height:17px">70.9</div>
<div class="t n" style="left:662px;top:272px;width:35px;height:17px;line-height:17px">180</div>
<div class="t2 b" style="left:0px;top:290px;width:59px;height:31px"><div>Shoulder<br>width</div></div>
<div class="t n" style="left:60px;top:290px;width:57px;height:31px;line-height:31px">15</div>
<div class="t n" style="left:118px;top:290px;width:36px;height:31px;line-height:31px">38</div>
<div class="t n" style="left:155px;top:290px;width:48px;height:31px;line-height:31px">15.4</div>
<div class="t n" style="left:204px;top:290px;width:33px;height:31px;line-height:31px">39</div>
<div class="t n" style="left:238px;top:290px;width:45px;height:31px;line-height:31px">15.7</div>
<div class="t n" style="left:284px;top:290px;width:31px;height:31px;line-height:31px">40</div>
<div class="t n" style="left:316px;top:290px;width:53px;height:31px;line-height:31px">16.5</div>
<div class="t n" style="left:370px;top:290px;width:42px;height:31px;line-height:31px">42</div>
<div class="t n" style="left:413px;top:290px;width:45px;height:31px;line-height:31px">17.7</div>
<div class="t n" style="left:459px;top:290px;width:47px;height:31px;line-height:31px">45</div>
<div class="t n" style="left:507px;top:290px;width:57px;height:31px;line-height:31px">18.9</div>
<div class="t n" style="left:565px;top:290px;width:40px;height:31px;line-height:31px">48</div>
<div class="t n" style="left:606px;top:290px;width:55px;height:31px;line-height:31px">20.1</div>
<div class="t n" style="left:662px;top:290px;width:35px;height:31px;line-height:31px">51</div>
<div class="t b" style="left:0px;top:322px;width:59px;height:17px;line-height:17px">Bust</div>
<div class="t n" style="left:60px;top:322px;width:57px;height:17px;line-height:17px">30.3</div>
<div class="t n" style="left:118px;top:322px;width:36px;height:17px;line-height:17px">77</div>
<div class="t n" style="left:155px;top:322px;width:48px;height:17px;line-height:17px">32.3</div>
<div class="t n" style="left:204px;top:322px;width:33px;height:17px;line-height:17px">82</div>
<div class="t n" style="left:238px;top:322px;width:45px;height:17px;line-height:17px">34.3</div>
<div class="t n" style="left:284px;top:322px;width:31px;height:17px;line-height:17px">87</div>
<div class="t n" style="left:316px;top:322px;width:53px;height:17px;line-height:17px">36.2</div>
<div class="t n" style="left:370px;top:322px;width:42px;height:17px;line-height:17px">92</div>
<div class="t n" style="left:413px;top:322px;width:45px;height:17px;line-height:17px">39.4</div>
<div class="t n" style="left:459px;top:322px;width:47px;height:17px;line-height:17px">100</div>
<div class="t n" style="left:507px;top:322px;width:57px;height:17px;line-height:17px">42.5</div>
<div class="t n" style="left:565px;top:322px;width:40px;height:17px;line-height:17px">108</div>
<div class="t n" style="left:606px;top:322px;width:55px;height:17px;line-height:17px">45.7</div>
<div class="t n" style="left:662px;top:322px;width:35px;height:17px;line-height:17px">116</div>
<div class="t b" style="left:0px;top:340px;width:59px;height:17px;line-height:17px">Waist</div>
<div class="t n" style="left:60px;top:340px;width:57px;height:17px;line-height:17px">23.6</div>
<div class="t n" style="left:118px;top:340px;width:36px;height:17px;line-height:17px">60</div>
<div class="t n" style="left:155px;top:340px;width:48px;height:17px;line-height:17px">24.4</div>
<div class="t n" style="left:204px;top:340px;width:33px;height:17px;line-height:17px">62</div>
<div class="t n" style="left:238px;top:340px;width:45px;height:17px;line-height:17px">26.4</div>
<div class="t n" style="left:284px;top:340px;width:31px;height:17px;line-height:17px">67</div>
<div class="t n" style="left:316px;top:340px;width:53px;height:17px;line-height:17px">28.3</div>
<div class="t n" style="left:370px;top:340px;width:42px;height:17px;line-height:17px">72</div>
<div class="t n" style="left:413px;top:340px;width:45px;height:17px;line-height:17px">31.5</div>
<div class="t n" style="left:459px;top:340px;width:47px;height:17px;line-height:17px">80</div>
<div class="t n" style="left:507px;top:340px;width:57px;height:17px;line-height:17px">34.6</div>
<div class="t n" style="left:565px;top:340px;width:40px;height:17px;line-height:17px">88</div>
<div class="t n" style="left:606px;top:340px;width:55px;height:17px;line-height:17px">37.8</div>
<div class="t n" style="left:662px;top:340px;width:35px;height:17px;line-height:17px">96</div>
<div class="t b" style="left:0px;top:358px;width:59px;height:17px;line-height:17px">Hip</div>
<div class="t n" style="left:60px;top:358px;width:57px;height:17px;line-height:17px">31.9</div>
<div class="t n" style="left:118px;top:358px;width:36px;height:17px;line-height:17px">81</div>
<div class="t n" style="left:155px;top:358px;width:48px;height:17px;line-height:17px">33.9</div>
<div class="t n" style="left:204px;top:358px;width:33px;height:17px;line-height:17px">86</div>
<div class="t n" style="left:238px;top:358px;width:45px;height:17px;line-height:17px">35.8</div>
<div class="t n" style="left:284px;top:358px;width:31px;height:17px;line-height:17px">91</div>
<div class="t n" style="left:316px;top:358px;width:53px;height:17px;line-height:17px">37.8</div>
<div class="t n" style="left:370px;top:358px;width:42px;height:17px;line-height:17px">96</div>
<div class="t n" style="left:413px;top:358px;width:45px;height:17px;line-height:17px">40.9</div>
<div class="t n" style="left:459px;top:358px;width:47px;height:17px;line-height:17px">104</div>
<div class="t n" style="left:507px;top:358px;width:57px;height:17px;line-height:17px">44.1</div>
<div class="t n" style="left:565px;top:358px;width:40px;height:17px;line-height:17px">112</div>
<div class="t n" style="left:606px;top:358px;width:55px;height:17px;line-height:17px">47.2</div>
<div class="t n" style="left:662px;top:358px;width:35px;height:17px;line-height:17px">120</div>
<div class="t2 b" style="left:0px;top:376px;width:59px;height:33px"><div>Sleeve<br>length</div></div>
<div class="t n" style="left:60px;top:376px;width:57px;height:33px;line-height:33px">20.1</div>
<div class="t n" style="left:118px;top:376px;width:36px;height:33px;line-height:33px">51</div>
<div class="t n" style="left:155px;top:376px;width:48px;height:33px;line-height:33px">21.3</div>
<div class="t n" style="left:204px;top:376px;width:33px;height:33px;line-height:33px">54</div>
<div class="t n" style="left:238px;top:376px;width:45px;height:33px;line-height:33px">22.4</div>
<div class="t n" style="left:284px;top:376px;width:31px;height:33px;line-height:33px">57</div>
<div class="t n" style="left:316px;top:376px;width:53px;height:33px;line-height:33px">23.6</div>
<div class="t n" style="left:370px;top:376px;width:42px;height:33px;line-height:33px">60</div>
<div class="t n" style="left:413px;top:376px;width:45px;height:33px;line-height:33px">24.8</div>
<div class="t n" style="left:459px;top:376px;width:47px;height:33px;line-height:33px">63</div>
<div class="t n" style="left:507px;top:376px;width:57px;height:33px;line-height:33px">25.6</div>
<div class="t n" style="left:565px;top:376px;width:40px;height:33px;line-height:33px">65</div>
<div class="t n" style="left:606px;top:376px;width:55px;height:33px;line-height:33px">26.4</div>
<div class="t n" style="left:662px;top:376px;width:35px;height:33px;line-height:33px">67</div>
<div class="t b" style="left:0px;top:410px;width:59px;height:17px;line-height:17px">Inseam</div>
<div class="t n" style="left:60px;top:410px;width:57px;height:17px;line-height:17px">27.4</div>
<div class="t n" style="left:118px;top:410px;width:36px;height:17px;line-height:17px">69.5</div>
<div class="t n" style="left:155px;top:410px;width:48px;height:17px;line-height:17px">28</div>
<div class="t n" style="left:204px;top:410px;width:33px;height:17px;line-height:17px">71</div>
<div class="t n" style="left:238px;top:410px;width:45px;height:17px;line-height:17px">28.9</div>
<div class="t n" style="left:284px;top:410px;width:31px;height:17px;line-height:17px">74</div>
<div class="t n" style="left:316px;top:410px;width:53px;height:17px;line-height:17px">29.9</div>
<div class="t n" style="left:370px;top:410px;width:42px;height:17px;line-height:17px">76</div>
<div class="t n" style="left:413px;top:410px;width:45px;height:17px;line-height:17px">30.9</div>
<div class="t n" style="left:459px;top:410px;width:47px;height:17px;line-height:17px">78.5</div>
<div class="t n" style="left:507px;top:410px;width:57px;height:17px;line-height:17px">31.9</div>
<div class="t n" style="left:565px;top:410px;width:40px;height:17px;line-height:17px">81</div>
<div class="t n" style="left:606px;top:410px;width:55px;height:17px;line-height:17px">31.9</div>
<div class="t n" style="left:662px;top:410px;width:35px;height:17px;line-height:17px">81</div>
<div class="r" style="left:890px;top:0px;width:1px;height:428px;background:#000"></div>
<div class="r" style="left:697px;top:427px;width:194px;height:1px;background:#000"></div>
<svg width="892" height="428" viewBox="0 0 892 428">
<g fill="#EE9398" stroke="none">
<path d="M792,98.5 C801,98.5 809,104 810,113 C811,121 808.5,128 804,133.5 C800,138.5 784,138.5 780,133.5 C775.5,128 773,121 774,113 C775,104 783,98.5 792,98.5 Z"/>
<ellipse cx="772" cy="123" rx="2.6" ry="4.5"/>
<ellipse cx="812" cy="123" rx="2.6" ry="4.5"/>
<path d="M784,128 L803,128 L803,141
 C806,146 825,149 834,152 C838,154 840,158 840.5,165
 L841,185 L845,213 L848.5,245 L849,250
 L837,250 L834,240 L831,213 L828,195 L827,186
 L824,195 L825,213 L829,230 L832,240 L835,255 L838,272 L843,290 L845,320 L849,340 L854,360 L855,380 L858,394
 C862,399 866,402 870,404.7 C875,408 880,410 884.5,413 C884,415 882,415.8 879,416 L867,416.5 C862,416 858,415 856,414.5 C852,413.8 847,413.5 843.5,412 L842.5,400
 L840,380 L836,365 L832,355 L829,345 L827,335 L826,326 L825,321 L821,316 L815,305 L808,290 L798,270 L793,260 L791,270
 L791.5,300 L792,320 L792.5,340 L791,360 L790,380 L791.5,393 L794,402 L794.5,408 C791,411 785,414 780,415.2 L770,415.5 C767,415.5 765,414.5 766.5,412.5 C770,408 775,404 778.4,400
 L776.6,390 L775.4,380 L772.2,360 L769,340 L767.7,320 L767,310 L762.5,290 L758.5,270 L758,250
 L757,245 L760,235 L765,225 L771.5,213 L772,205 L771,195 L767,188 L763,180
 L761,185 L758,205 L754,225 L751,245 L750,250 L740,250
 L741.3,245 L741.3,225 L742.7,205 L746,185 L748,170 L749.5,161
 C750.5,157 753,154 757,152.5 C765,149.5 778,147 784,141 Z"/>
</g>
<!-- hands (paler) -->
<g fill="#E9A3A9">
<path d="M740,249 L750.5,249 C751,254 751.5,258 750.5,262 C750,266 749.5,269 748.5,270 C747,269 747.5,265 747,262 C746.5,266 747.5,271 749,273.5 C749,275.5 747,276 745.5,274.5 C742,271 739.5,266 738.5,261 C738,257 739,253 740,249 Z"/>
<path d="M837.5,249 L849,249 C850.5,253 852.5,258 852.5,262 C852.5,267 849,272 845,274.5 C843,275.5 842,274 843.5,272.5 C846,270 847.5,266 846.5,263 C845,265 843.5,267 842,266.5 C841,265 842.5,262 842,259 C840.5,256 838.5,253 837.5,249 Z"/>
</g>
<!-- shading -->
<g fill="#DF7C87" opacity="0.75">
<path d="M767,188 L771,195 L772,205 L771.5,213 L765,225 L760,235 L757,245 L758,250 L758.5,270 L762.5,290 L767,310 L770,330 L775,330 L771,310 L766,290 L763,270 L762.5,250 L764,240 L769,228 L775,215 L776,205 L775,195 L770,188 Z"/>
<path d="M751,158 C753,156 755,155 757,156 L760,166 L764,178 L763,180 L761,185 L758,205 L754,225 L751,245 L750,250 L740,250 L741.3,245 L741.3,225 L742.7,205 L746,185 L748,170 L749.5,161 Z" opacity="0.55"/>
<path d="M793,260 L798,270 L808,290 L815,305 L821,316 L825,321 L829,318 L824,312 L818,302 L811,287 L801,268 Z"/>
<path d="M826,326 L827,335 L829,345 L832,355 L836,365 L840,380 L842.5,400 L843.5,410 L846,410 L845,398 L843,380 L839,363 L835,352 L832,342 L830,330 Z"/>
<path d="M770,330 L775,330 C781,325 788,324 792,330 L790.5,335 C786,331 781,331 776,334 Z"/>
</g>
<g fill="none" stroke="#96678A" stroke-width="1.3">
<line x1="706" y1="98.2" x2="789.7" y2="98.2"/>
<line x1="706" y1="416.8" x2="789.7" y2="416.8"/>
</g>
<g fill="none" stroke="#864070" stroke-width="1.2">
<line x1="732.3" y1="101" x2="732.3" y2="238.5"/>
<line x1="732.3" y1="272.5" x2="732.3" y2="414"/>
</g>
<g fill="#864070">
<path d="M732.3,98.5 L735.6,103.8 L729,103.8 Z"/>
<path d="M732.3,416.5 L735.4,411.5 L729.2,411.5 Z"/>
</g>
<g fill="none" stroke="#C8606E" stroke-width="0.9" opacity="0.7">
<path d="M793.5,174 Q792.5,180 788,183.5 Q781,185.5 776,184"/>
<path d="M800,174 Q801,180 806,183.5 Q813,186 819,184.5"/>
</g>
<g fill="none" stroke="#C0306C" stroke-width="0.8" opacity="0.35">
<path d="M763,181 Q795,176.5 826.5,181.5"/>
<path d="M764.7,188.8 Q797,184.5 828.7,188.8"/>
<path d="M768,211.8 Q797,207.5 826.5,211.8"/>
<path d="M752.5,242 Q795,236 838,242"/>
</g>
<g fill="none" stroke="#C0306C" stroke-width="1.3" stroke-linecap="round">
<path d="M768,179.2 Q763,179.3 763,181 Q763,183.2 770,183.8 Q795,185.6 820,183.8 Q826.5,183.2 826.5,181.5 Q826.5,180 822,179.6"/>
<path d="M770,186.8 Q764.7,187 764.7,188.8 Q764.7,191 772,191.6 Q797,193.2 822,191.6 Q828.7,191 828.7,188.8 Q828.7,187.2 824,187"/>
<path d="M773,209.8 Q768,210 768,211.8 Q768,214 775,214.6 Q797,216 819,214.6 Q826.5,214 826.5,211.8 Q826.5,210.2 822,210"/>
<path d="M760,239 Q752.5,239.5 752.5,242 Q752.5,244.8 762,245.4 Q795,247.3 828,245.4 Q838,244.8 838,242 Q838,239.5 831,239"/>
</g>
<g font-family="Liberation Sans, Arial, sans-serif" font-weight="bold" font-size="9" stroke-width="0.5" lengthAdjust="spacingAndGlyphs">
<text x="697.5" y="259.2" fill="#B82A6E" stroke="#B82A6E">A</text>
<text x="708" y="259.2" fill="#111" stroke="#111" textLength="33.5" lengthAdjust="spacingAndGlyphs">Height</text>
<text x="840.3" y="182.8" fill="#B82A6E" stroke="#B82A6E">B</text>
<text x="850.5" y="182.8" fill="#111" stroke="#111" textLength="23.3" lengthAdjust="spacingAndGlyphs">Bust</text>
<text x="840.3" y="193.4" fill="#B82A6E" stroke="#B82A6E">C</text>
<text x="850.5" y="193.4" fill="#111" stroke="#111" textLength="30.8" lengthAdjust="spacingAndGlyphs">Under</text>
<text x="850.5" y="199.9" fill="#111" stroke="#111" textLength="22.5" lengthAdjust="spacingAndGlyphs">Bust</text>
<text x="840.3" y="215.8" fill="#B82A6E" stroke="#B82A6E">D</text>
<text x="850.3" y="215.8" fill="#111" stroke="#111" textLength="28.6" lengthAdjust="spacingAndGlyphs">Waist</text>
<text x="840.3" y="245.2" fill="#B82A6E" stroke="#B82A6E">E</text>
<text x="850.3" y="245.2" fill="#111" stroke="#111" textLength="17.2" lengthAdjust="spacingAndGlyphs">Hip</text>
</g>
</svg>

</body></html>
